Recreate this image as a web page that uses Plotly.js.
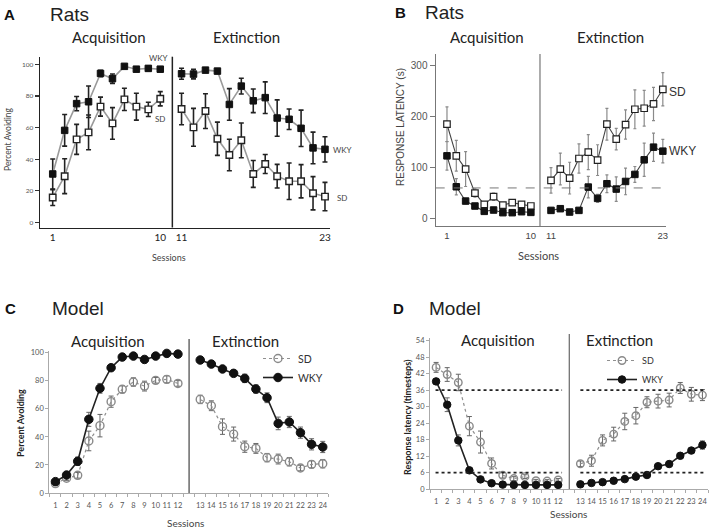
<!DOCTYPE html>
<html><head><meta charset="utf-8">
<script src="https://cdn.plot.ly/plotly-3.0.1.min.js"></script>
<style>html,body{margin:0;padding:0;background:#fff}#chart{width:713px;height:530px}</style>
</head><body><div id="chart"></div>
<script>
// ---------- DATA ----------
// Panel A: Rats, percent avoiding
const ratSessAcq = [1,2,3,4,5,6,7,8,9,10];
const ratSessExt = [11,12,13,14,15,16,17,18,19,20,21,22,23];
const ratTickSessions = [1,10,11,23];
const avoidWKYAcq = [30.7,58.3,75.2,76.4,94.3,91,98.8,97,97.5,97];
const avoidWKYAcqErr = [9.5,10,4.5,10,2,3,1,1,1.5,1.5];
const avoidSDAcq = [15.8,29.3,52.6,57,73.3,62.7,77.9,73.3,71.6,78.3];
const avoidSDAcqErr = [5,11,9.5,11,6,10,7,8.5,4.5,4.5];
const avoidWKYExt = [94.1,93.9,96.4,95.8,74.7,86.3,77,79,66.1,65.3,59.6,47.2,46.3];
const avoidWKYExtErr = [3.5,3,1,1.5,10,5,7.5,10,11.5,6.5,11.5,10,8];
const avoidSDExt = [71.8,60.2,70.5,53,42.7,52,30.7,37,29.3,26.1,26.1,18.5,16.4];
const avoidSDExtErr = [10,12,11,10.5,10,11,8.5,6,7.5,11.5,10.5,10.5,9];

// Panel B: Rats, response latency (s)
const latSDAcq = [184.4,122.7,96.8,50,27.9,42.9,26.6,31.2,27.9,24.7];
const latSDAcqErr = [34,30,34,8,3,7,3,3,3,3];
const latWKYAcq = [122.7,62.3,34.4,24.7,14.3,16.9,11.7,11.7,13.6,12.3];
const latWKYAcqErr = [28,16,5,4,3,3,3,3,3,3];
const latSDExt = [74.7,96.8,79.2,117.5,129.9,114.3,184.4,155.2,183.8,213.6,215.6,224,252.6];
const latSDExtErr = [25,31,31,28.5,34,30,31,21,28.5,38,35,32.5,32.5];
const latWKYExt = [16.2,19.5,13,16.2,61.7,39.6,68.2,57.8,72.7,86.4,114.9,139.6,131.8];
const latWKYExtErr = [5,5,3,3,21,8,17.5,24,26,15.5,32.5,27.6,23];
const ratLatThreshold = 60;

// Panel C: Model, percent avoiding
const modSessAcq = [1,2,3,4,5,6,7,8,9,10,11,12];
const modSessExt = [13,14,15,16,17,18,19,20,21,22,23,24];
const mAvoidWKYAcq = [8.1,12.8,22.6,52.5,74.6,89.3,96.9,97.6,95.2,97.6,99.5,99];
const mAvoidWKYAcqErr = [1,1.5,3,5,3.5,2,1.5,1.5,1.5,1.5,1,1];
const mAvoidSDAcq = [6.7,10.5,12.6,37.1,48,65.1,73.9,79.1,76.2,80.3,81,78.1];
const mAvoidSDAcqErr = [1,1.5,2,7,8,4,2.5,3,3.5,2,2.5,2];
const mAvoidWKYExt = [94.8,91.9,88.4,85.3,81.7,74.1,67.9,49.6,50.6,43,34.7,32.8];
const mAvoidWKYExtErr = [1.5,1.5,1.5,2,3,3,3.5,4.5,4,4,4,4];
const mAvoidSDExt = [66.7,62.2,47.3,42,33,31.8,25.2,24.2,22.3,17.8,20.4,20.9];
const mAvoidSDExtErr = [3,3.5,5.5,5,4,3.5,3,3.5,3,2,2.5,3];

// Panel D: Model, response latency (timesteps)
const mLatSDAcq = [44.3,41.7,38.8,22.9,17.1,9.3,5,3.8,4.5,3,2.9,3.3];
const mLatSDAcqErr = [1.8,2.5,3,3.5,4,2,1,0.7,0.7,0.5,0.5,0.5];
const mLatWKYAcq = [39.2,30.7,17.7,6.8,3.5,2.1,1.6,1.5,1.5,1.5,1.5,1.5];
const mLatWKYAcqErr = [1,2.5,2,0.5,0.5,0.3,0.3,0.3,0.3,0.3,0.3,0.3];
const mLatSDExt = [9.2,10.3,17.7,20,24.6,26.7,31.6,32,32.4,36.8,34.5,34.2];
const mLatSDExtErr = [1,2,2,2.5,3,3,2,2.5,2.5,2,2.5,2];
const mLatWKYExt = [1.7,2.2,2.5,3,3.6,4.5,5.1,8.3,9.1,12.1,14,16];
const mLatWKYExtErr = [0.3,0.3,0.3,0.3,0.3,0.3,0.3,0.5,0.5,0.5,0.7,1.5];
const mLatThresholds = [36, 6];

// ---------- LAYOUT HELPERS ----------
const W = 713, H = 530;
const px = x => x / W;
const py = y => 1 - y / H;
// gap between acquisition and extinction blocks on each session axis
const posA = s => s <= 10 ? s : s + 0.78;
const posB = s => s <= 10 ? s : s + 1.16;
const posM = s => s <= 12 ? s : s + 1;

const SANS = 'Liberation Sans, Arial, sans-serif';
const HUM = 'Lato, Open Sans, sans-serif';

function tr(xa, ya, sess, posF, y, err, o) {
  return Object.assign({
    type: 'scatter', mode: 'lines+markers', xaxis: xa, yaxis: ya,
    x: sess.map(posF), y: y, cliponaxis: false,
    error_y: {type: 'data', array: err, visible: true, color: o.ecol, thickness: o.eth, width: o.ew},
    line: o.line, marker: o.marker, showlegend: false, hoverinfo: 'skip'
  }, o.extra || {});
}

const data = [];
// A
const aLine = {color: '#9a9a9a', width: 1.6};
const aErr = {ecol: '#222', eth: 1.6, ew: 2.5};
data.push(tr('x','y', ratSessAcq, posA, avoidSDAcq, avoidSDAcqErr, Object.assign({line: aLine, marker: {symbol: 'square', size: 6.5, color: '#fff', line: {color: '#222', width: 1.4}}}, aErr)));
data.push(tr('x','y', ratSessExt, posA, avoidSDExt, avoidSDExtErr, Object.assign({line: aLine, marker: {symbol: 'square', size: 6.5, color: '#fff', line: {color: '#222', width: 1.4}}}, aErr)));
data.push(tr('x','y', ratSessAcq, posA, avoidWKYAcq, avoidWKYAcqErr, Object.assign({line: aLine, marker: {symbol: 'square', size: 6.5, color: '#111', line: {color: '#111', width: 1}}}, aErr)));
data.push(tr('x','y', ratSessExt, posA, avoidWKYExt, avoidWKYExtErr, Object.assign({line: aLine, marker: {symbol: 'square', size: 6.5, color: '#111', line: {color: '#111', width: 1}}}, aErr)));
// B
const bLine = {color: '#444', width: 1.1};
const bErr = {ecol: '#8a8a8a', eth: 1.2, ew: 1.5};
data.push(tr('x2','y2', ratSessAcq, posB, latSDAcq, latSDAcqErr, Object.assign({line: bLine, marker: {symbol: 'square', size: 6.5, color: '#fff', line: {color: '#222', width: 1.2}}}, bErr)));
data.push(tr('x2','y2', ratSessExt, posB, latSDExt, latSDExtErr, Object.assign({line: bLine, marker: {symbol: 'square', size: 6.5, color: '#fff', line: {color: '#222', width: 1.2}}}, bErr)));
data.push(tr('x2','y2', ratSessAcq, posB, latWKYAcq, latWKYAcqErr, Object.assign({line: bLine, marker: {symbol: 'square', size: 6.5, color: '#111', line: {color: '#111', width: 1}}}, bErr)));
data.push(tr('x2','y2', ratSessExt, posB, latWKYExt, latWKYExtErr, Object.assign({line: bLine, marker: {symbol: 'square', size: 6.5, color: '#111', line: {color: '#111', width: 1}}}, bErr)));
// C
const sdLine = {color: '#8f8f8f', width: 1.2, dash: 'dot'};
const wkLine = {color: '#222', width: 1.6};
const sdMk = s => ({symbol: 'circle-open', size: s, color: '#8a8a8a', line: {color: '#8a8a8a', width: 1.4}});
const wkMk = s => ({symbol: 'circle', size: s, color: '#111', line: {color: '#111', width: 1}});
const mErr = {ecol: '#666', eth: 1, ew: 2.5};
data.push(tr('x3','y3', modSessAcq, posM, mAvoidSDAcq, mAvoidSDAcqErr, Object.assign({line: sdLine, marker: sdMk(8), extra: {name: 'SD', showlegend: true, legend: 'legend', legendrank: 1}}, mErr)));
data.push(tr('x3','y3', modSessExt, posM, mAvoidSDExt, mAvoidSDExtErr, Object.assign({line: sdLine, marker: sdMk(8)}, mErr)));
data.push(tr('x3','y3', modSessAcq, posM, mAvoidWKYAcq, mAvoidWKYAcqErr, Object.assign({line: wkLine, marker: wkMk(8.5), extra: {name: 'WKY', showlegend: true, legend: 'legend', legendrank: 2}}, mErr)));
data.push(tr('x3','y3', modSessExt, posM, mAvoidWKYExt, mAvoidWKYExtErr, Object.assign({line: wkLine, marker: wkMk(8.5)}, mErr)));
// D
data.push(tr('x4','y4', modSessAcq, posM, mLatSDAcq, mLatSDAcqErr, Object.assign({line: sdLine, marker: sdMk(7.5), extra: {name: 'SD', showlegend: true, legend: 'legend2', legendrank: 1}}, mErr)));
data.push(tr('x4','y4', modSessExt, posM, mLatSDExt, mLatSDExtErr, Object.assign({line: sdLine, marker: sdMk(7.5)}, mErr)));
data.push(tr('x4','y4', modSessAcq, posM, mLatWKYAcq, mLatWKYAcqErr, Object.assign({line: wkLine, marker: wkMk(7.5), extra: {name: 'WKY', showlegend: true, legend: 'legend2', legendrank: 2}}, mErr)));
data.push(tr('x4','y4', modSessExt, posM, mLatWKYExt, mLatWKYExtErr, Object.assign({line: wkLine, marker: wkMk(7.5)}, mErr)));

const allModSess = modSessAcq.concat(modSessExt);
const halfTicks = [];
for (let v = 0.5; v <= 25.5; v += 1) halfTicks.push(v);

function modelX(dom, yanchor) {
  return {domain: dom, anchor: yanchor, range: [0.45, 25.5], showgrid: false, zeroline: false,
    showline: true, linecolor: '#aaa', linewidth: 1,
    tickmode: 'array', tickvals: allModSess.map(posM), ticktext: allModSess.map(String), ticks: '',
    tickangle: 0, ticklabelstandoff: 5,
    minor: {tickmode: 'array', tickvals: halfTicks, ticks: 'outside', ticklen: 3, tickcolor: '#aaa', tickwidth: 1, showgrid: false},
    tickfont: {family: HUM, size: 7.5, color: '#555'}, fixedrange: true};
}

const layout = {
  width: W, height: H, margin: {l: 0, r: 0, t: 0, b: 0},
  paper_bgcolor: '#fff', plot_bgcolor: 'rgba(0,0,0,0)',
  font: {family: HUM, color: '#222'},
  showlegend: true,
  xaxis: {domain: [px(40), px(330)], anchor: 'y', range: [-0.063, 24.2], showgrid: false, zeroline: false,
    showline: true, linecolor: '#222', linewidth: 1.5, ticks: '',
    tickmode: 'array', tickvals: ratTickSessions.map(posA), ticktext: ratTickSessions.map(String),
    tickfont: {family: HUM, size: 10, color: '#222'}},
  yaxis: {domain: [py(227.5), py(56.7)], anchor: 'x', range: [-3.16, 104.9], showgrid: false, zeroline: false,
    showline: true, linecolor: '#222', linewidth: 1.5, ticks: 'outside', ticklen: 4, tickcolor: '#333', tickwidth: 1.2,
    tickmode: 'array', tickvals: [0,20,40,60,80,100], tickfont: {family: HUM, size: 6.5, color: '#555'}},
  xaxis2: {domain: [px(435.7), px(666)], anchor: 'y2', range: [-0.21, 24.5], showgrid: false, zeroline: false,
    showline: true, linecolor: '#777', linewidth: 1.2, ticks: '',
    tickmode: 'array', tickvals: ratTickSessions.map(posB), ticktext: ratTickSessions.map(String),
    tickfont: {family: SANS, size: 9.5, color: '#444'}},
  yaxis2: {domain: [py(226), py(54)], anchor: 'x2', range: [-14.3, 321.5], showgrid: false, zeroline: false,
    showline: true, linecolor: '#777', linewidth: 1.2, ticks: 'outside', ticklen: 5, tickcolor: '#777',
    tickmode: 'array', tickvals: [0,100,200,300], tickfont: {family: SANS, size: 10, color: '#555'}},
  xaxis3: modelX([px(49.3), px(328.3)], 'y3'),
  yaxis3: {domain: [py(493), py(351.3)], anchor: 'x3', range: [0, 101], showgrid: false, zeroline: false,
    showline: true, linecolor: '#aaa', linewidth: 1, ticks: 'outside', ticklen: 3, tickcolor: '#aaa',
    tickmode: 'array', tickvals: [0,20,40,60,80,100], tickfont: {family: HUM, size: 7.5, color: '#555'}},
  xaxis4: modelX([px(430), px(708)], 'y4'),
  yaxis4: {domain: [py(489), py(338)], anchor: 'x4', range: [0, 55], showgrid: false, zeroline: false,
    showline: true, linecolor: '#aaa', linewidth: 1, ticks: 'outside', ticklen: 3, tickcolor: '#aaa',
    tickmode: 'array', tickvals: [0,6,12,18,24,30,36,42,48,54], tickfont: {family: HUM, size: 7.5, color: '#555'}},
  legend: {x: px(258), y: py(344), xanchor: 'left', yanchor: 'top', bgcolor: 'rgba(0,0,0,0)',
    font: {family: HUM, size: 10.5, color: '#333'}, itemwidth: 30, tracegroupgap: 0, traceorder: 'normal'},
  legend2: {x: px(602), y: py(346), xanchor: 'left', yanchor: 'top', bgcolor: 'rgba(0,0,0,0)',
    font: {family: HUM, size: 9, color: '#333'}, itemwidth: 30, tracegroupgap: 0, traceorder: 'normal'},
  shapes: [
    {type: 'line', xref: 'x', yref: 'paper', x0: 11.01, x1: 11.01, y0: py(227.5), y1: py(56.7), line: {color: '#222', width: 1.5}},
    {type: 'line', xref: 'x2', yref: 'paper', x0: 10.98, x1: 10.98, y0: py(226), y1: py(54), line: {color: '#777', width: 1.2}},
    {type: 'line', xref: 'x2', yref: 'y2', x0: -0.21, x1: 24.5, y0: ratLatThreshold, y1: ratLatThreshold, line: {color: '#777', width: 1, dash: 'dash'}},
    {type: 'line', xref: 'x3', yref: 'paper', x0: 13, x1: 13, y0: py(493), y1: py(339), line: {color: '#444', width: 1.2}},
    {type: 'line', xref: 'x4', yref: 'paper', x0: 13, x1: 13, y0: py(489), y1: py(334), line: {color: '#666', width: 1.2}}
  ],
  annotations: []
};
// D thresholds (acquisition block and extinction block)
mLatThresholds.forEach(t => {
  layout.shapes.push({type: 'line', xref: 'x4', yref: 'y4', x0: posM(1) - 0.05, x1: posM(12) + 0.35, y0: t, y1: t, line: {color: '#222', width: 1.8, dash: 'dot'}});
  layout.shapes.push({type: 'line', xref: 'x4', yref: 'y4', x0: posM(13), x1: posM(24) + 0.1, y0: t, y1: t, line: {color: '#222', width: 1.8, dash: 'dot'}});
});

function ann(text, x, y, size, opts) {
  layout.annotations.push(Object.assign({text: text, xref: 'paper', yref: 'paper', x: px(x), y: py(y),
    xanchor: 'center', yanchor: 'middle', showarrow: false,
    font: {family: HUM, size: size, color: '#222'}}, opts || {}));
}
// Panel A
ann('<b>A</b>', 9, 15, 15, {font: {family: SANS, size: 15, color: '#111'}});
ann('Rats', 48, 15, 19, {xanchor: 'left', font: {family: SANS, size: 19, color: '#222'}});
ann('Acquisition', 109, 37, 15);
ann('Extinction', 246, 37, 15);
ann('WKY', 158, 58, 8, {font: {family: HUM, size: 8, color: '#444'}});
ann('SD', 160, 119, 8, {font: {family: HUM, size: 8, color: '#444'}});
ann('WKY', 342, 150, 8, {font: {family: HUM, size: 8, color: '#444'}});
ann('SD', 342, 198, 8, {font: {family: HUM, size: 8, color: '#444'}});
ann('Sessions', 169, 257, 9, {font: {family: HUM, size: 9, color: '#444'}});
ann('Percent Avoiding', 8, 140, 8.5, {textangle: -90, font: {family: HUM, size: 8.5, color: '#444'}});
// Panel B
ann('<b>B</b>', 400, 13, 15, {font: {family: SANS, size: 15, color: '#111'}});
ann('Rats', 423, 13, 19, {xanchor: 'left', font: {family: SANS, size: 19, color: '#222'}});
ann('Acquisition', 487, 37, 15);
ann('Extinction', 610, 37, 15);
ann('SD', 667, 92, 12, {xanchor: 'left', font: {family: SANS, size: 12, color: '#333'}});
ann('WKY', 667, 151, 12, {xanchor: 'left', font: {family: SANS, size: 12, color: '#333'}});
ann('Sessions', 538, 255, 11, {font: {family: HUM, size: 11, color: '#444'}});
ann('RESPONSE LATENCY (s)', 400, 127, 10, {textangle: -90, font: {family: SANS, size: 10, color: '#444'}});
// Panel C
ann('<b>C</b>', 10, 308, 15, {font: {family: SANS, size: 15, color: '#111'}});
ann('Model', 50, 308, 19, {xanchor: 'left', font: {family: SANS, size: 19, color: '#222'}});
ann('Acquisition', 108, 341, 15);
ann('Extinction', 245, 341, 15);
ann('Sessions', 185, 523, 10, {font: {family: HUM, size: 10, color: '#444'}});
ann('<b>Percent Avoiding</b>', 20, 423, 9, {textangle: -90, font: {family: HUM, size: 9, color: '#222'}});
// Panel D
ann('<b>D</b>', 398, 308, 15, {font: {family: SANS, size: 15, color: '#111'}});
ann('Model', 427, 308, 19, {xanchor: 'left', font: {family: SANS, size: 19, color: '#222'}});
ann('Acquisition', 498, 340, 15);
ann('Extinction', 619, 340, 15);
ann('Sessions', 568, 514, 10, {font: {family: HUM, size: 10, color: '#444'}});
ann('<b>Response latency (timesteps)</b>', 407, 417, 9, {textangle: -90, font: {family: HUM, size: 9, color: '#222'}});

Plotly.newPlot('chart', data, layout, {staticPlot: true, displayModeBar: false});
</script></body></html>
